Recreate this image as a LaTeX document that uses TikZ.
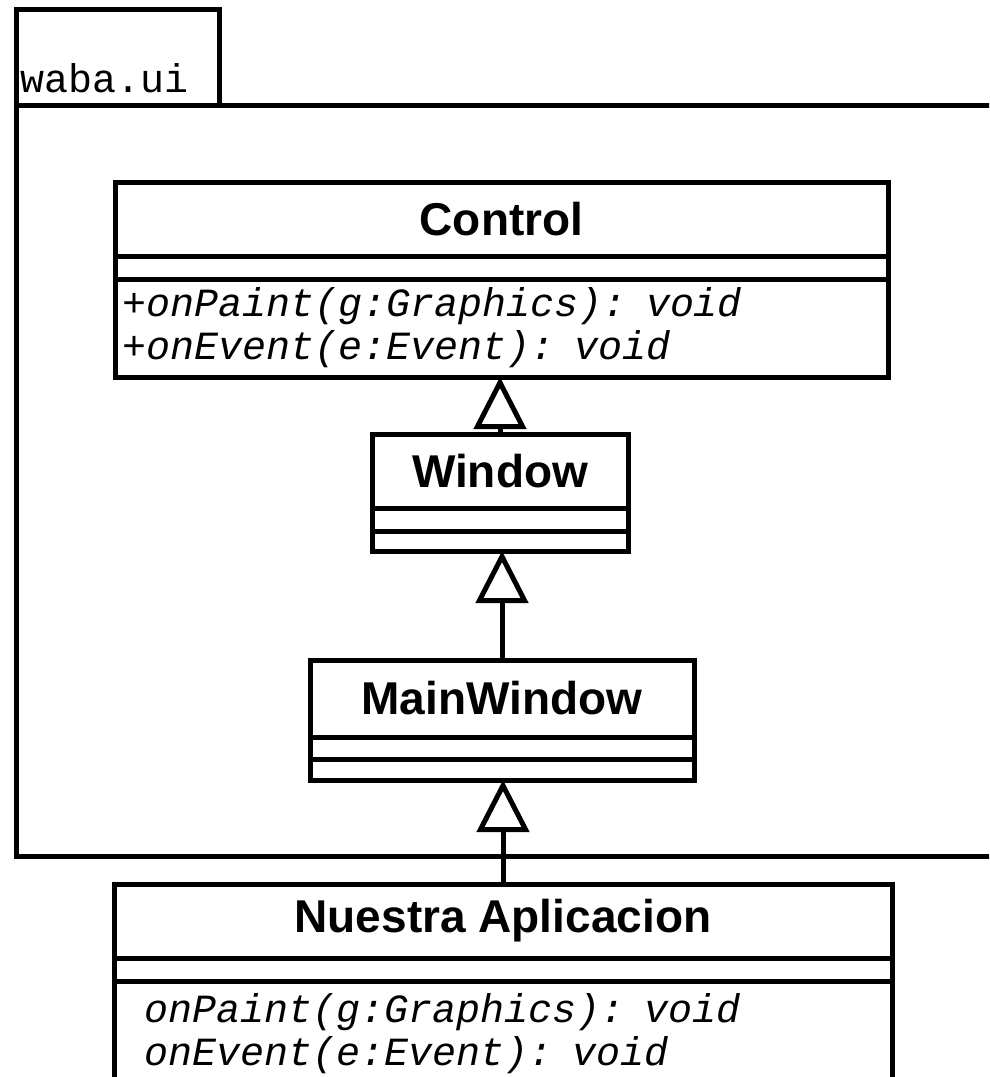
\documentclass[tikz,border=0pt]{standalone}
\usepackage{fontspec}
\newfontfamily\umlsans{Liberation Sans}
\newfontfamily\umlmono{Liberation Mono}
\usetikzlibrary{arrows.meta,positioning}

\tikzset{
  uml/.style={draw, line width=5pt, inner sep=0pt, outer sep=0pt},
  clsname/.style={uml, anchor=north, font=\umlsans\bfseries\fontsize{46}{50}\selectfont},
  ops/.style={uml, anchor=north, align=left, font=\umlmono\itshape\fontsize{40}{43}\selectfont},
  pkg/.style={line width=5pt},
  inherit/.style={line width=5pt, -{Triangle[fill=white, length=52pt, width=52pt]}}
}

\begin{document}
\begin{tikzpicture}[x=1pt, y=-1pt]
  \useasboundingbox (0,0) rectangle (989,1077);
  \clip (0,0) rectangle (989,1077);

  % package waba.ui
  \draw[pkg] (16,9) rectangle (219,105);
  \node[anchor=base west, inner sep=0pt, font=\umlmono\fontsize{40}{43}\selectfont] (pkgname) at (20,92) {waba.ui};
  \draw[pkg] (219,105) -- (1000,105);
  \draw[pkg] (16,105) -- (16,856) -- (1000,856);

  % classes
  \node[clsname, minimum width=773pt, minimum height=74pt] (ctrl) at (501.5,182) {Control};
  \node[uml, below=0pt of ctrl, minimum width=773pt, minimum height=23pt] (ctrl-attr) {};
  \node[ops, below=0pt of ctrl-attr, inner xsep=7pt, text width=759pt, minimum height=98pt] (ctrl-ops)
    {+onPaint(g:Graphics): void\\+onEvent(e:Event): void};

  \node[clsname, minimum width=256pt, minimum height=74pt] (win) at (500,434) {Window};
  \node[uml, below=0pt of win, minimum width=256pt, minimum height=23pt] (win-attr) {};
  \node[uml, below=0pt of win-attr, minimum width=256pt, minimum height=20pt] (win-ops) {};

  \node[clsname, minimum width=384pt, minimum height=77pt] (main) at (502,660) {MainWindow};
  \node[uml, below=0pt of main, minimum width=384pt, minimum height=22pt] (main-attr) {};
  \node[uml, below=0pt of main-attr, minimum width=384pt, minimum height=21pt] (main-ops) {};

  \node[clsname, minimum width=778pt, minimum height=74pt] (app) at (503,884) {Nuestra Aplicacion};
  \node[uml, below=0pt of app, minimum width=778pt, minimum height=23pt] (app-attr) {};
  \node[ops, below=0pt of app-attr, inner xsep=30pt, text width=718pt, minimum height=105pt] (app-ops)
    {onPaint(g:Graphics): void\\onEvent(e:Event): void};

  % generalizations
  \draw[inherit] (win.north) -- (win.north |- ctrl-ops.south);
  \draw[inherit] (main.north) -- (main.north |- win-ops.south);
  \draw[inherit] (app.north) -- (app.north |- main-ops.south);
\end{tikzpicture}
\end{document}
